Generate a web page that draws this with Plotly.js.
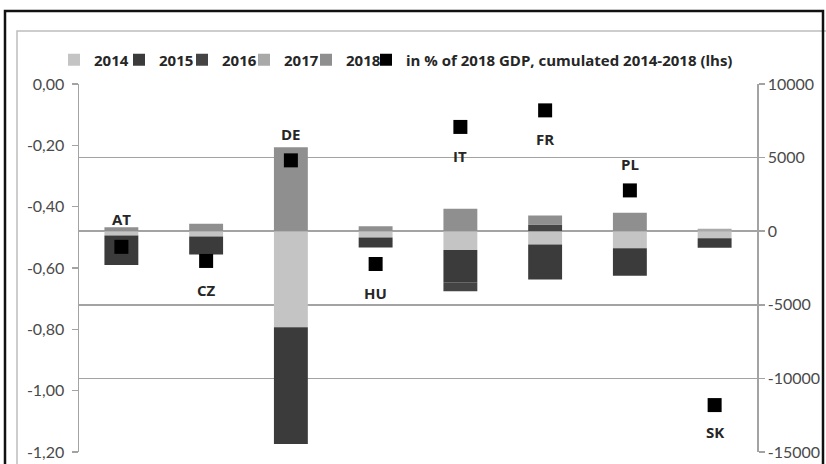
<!DOCTYPE html>
<html>
<head>
<meta charset="utf-8">
<script src="https://cdn.plot.ly/plotly-3.0.1.min.js"></script>
<style>html,body{margin:0;padding:0;background:#fff;}#chart{width:826px;height:464px;}</style>
</head>
<body>
<div id="chart"></div>
<script>
// Categories
var countries = ['AT', 'CZ', 'DE', 'HU', 'IT', 'FR', 'PL', 'SK'];
// Yearly values (rhs scale)
var y2014 = [-290, -360, -6530, -430, -1270, -900, -1160, -480];
var y2015 = [-2000, -1220, -7930, -680, -2200, -2380, -1860, -650];
var y2016 = [0, 0, 0, 0, -610, 450, 0, 0];
var y2017 = [0, 0, 0, 0, 0, 0, 0, 170];
var y2018 = [270, 500, 5710, 340, 1520, 610, 1250, 0];
// Cumulated 2014-2018, in % of 2018 GDP (lhs)
var cumPct = [-0.531, -0.577, -0.249, -0.587, -0.140, -0.086, -0.347, -1.047];
// Label positions for country names (lhs units)
var labelY = [-0.44, -0.673, -0.162, -0.683, -0.234, -0.178, -0.262, -1.135];

// Tick labels
var lhsTickVals = [0, -0.2, -0.4, -0.6, -0.8, -1.0, -1.2];
var lhsTickText = ['0,00', '-0,20', '-0,40', '-0,60', '-0,80', '-1,00', '-1,20'];
var rhsTickVals = [10000, 5000, 0, -5000, -10000, -15000];
var rhsTickText = ['10000', '5000', '0', '-5000', '-10000', '-15000'];

var seriesNames = ['2014', '2015', '2016', '2017', '2018'];
var seriesVals = [y2014, y2015, y2016, y2017, y2018];
var seriesColors = ['#c4c4c4', '#3b3b3b', '#444444', '#a9a9a9', '#8f8f8f'];
var dotName = 'in % of 2018 GDP, cumulated 2014-2018 (lhs)';

var FONT = 'Lato, "Open Sans", sans-serif';
var LEGFONT = '"Open Sans", Lato, sans-serif';

// helpers to convert pixel frame positions into paper coordinates
var L = 79, R = 757, T = 84, B = 452;
function px(x) { return (x - L) / (R - L); }
function py(y) { return (B - y) / (B - T); }

// legend entry left positions (px)
var legendX = [54, 119, 182, 244, 306, 366];
var legendIds = ['legend', 'legend2', 'legend3', 'legend4', 'legend5', 'legend6'];

var traces = seriesNames.map(function (n, i) {
  return {
    type: 'bar', name: n, x: countries, y: seriesVals[i],
    marker: {color: seriesColors[i], line: {width: 0}},
    yaxis: 'y', xaxis: 'x', legend: legendIds[i]
  };
});
traces.push({
  type: 'scatter', mode: 'markers', name: dotName,
  x: countries, y: cumPct, yaxis: 'y2', xaxis: 'x', legend: legendIds[5],
  marker: {symbol: 'square', size: 14, color: '#000'}
});

var annotations = countries.map(function (c, i) {
  return {
    x: c, y: labelY[i], xref: 'x', yref: 'y2', text: c, showarrow: false,
    font: {family: LEGFONT, size: 15, color: '#262626', weight: 'bold'}
  };
});

var layout = {
  width: 826, height: 464,
  margin: {l: L, r: 826 - R, t: T, b: 464 - B},
  paper_bgcolor: '#fff', plot_bgcolor: '#fff',
  barmode: 'relative', bargap: 0.6,
  showlegend: true,
  xaxis: {
    type: 'category', range: [-0.5, 7.5], showticklabels: false, showgrid: false,
    zeroline: false, showline: false, ticks: '', fixedrange: true
  },
  yaxis: {
    side: 'right', range: [-15000, 10000], tickvals: rhsTickVals, ticktext: rhsTickText,
    showgrid: true, gridcolor: '#a3a3a3', gridwidth: 1.5, zeroline: false,
    showline: true, linecolor: '#a3a3a3', linewidth: 1.5, ticks: 'outside', ticklen: 6,
    tickcolor: '#a3a3a3', tickwidth: 1.5,
    tickfont: {family: FONT, size: 16, color: '#4a4a4a'}
  },
  yaxis2: {
    overlaying: 'y', side: 'left', range: [-1.2, 0], tickvals: lhsTickVals, ticktext: lhsTickText,
    showgrid: false, zeroline: false, showline: true, linecolor: '#a3a3a3', linewidth: 1.5,
    ticks: 'outside', ticklen: 6, tickcolor: '#a3a3a3', tickwidth: 1.5, ticklabelstandoff: 4,
    tickfont: {family: FONT, size: 16, color: '#4a4a4a'}
  },
  annotations: annotations,
  shapes: [
    {type: 'rect', xref: 'paper', yref: 'paper', x0: px(17), x1: px(845), y0: py(490), y1: py(31),
     line: {color: '#bdbdbd', width: 1.5}, fillcolor: 'rgba(0,0,0,0)', layer: 'below'},
    {type: 'rect', xref: 'paper', yref: 'paper', x0: px(5), x1: px(823), y0: py(490), y1: py(11),
     line: {color: '#111', width: 2.5}, fillcolor: 'rgba(0,0,0,0)', layer: 'above'}
  ]
};

legendIds.forEach(function (id, i) {
  layout[id] = {
    orientation: 'h', x: px(legendX[i]), xanchor: 'left', y: py(60), yanchor: 'middle',
    font: {family: LEGFONT, size: 15, color: '#262626', weight: 'bold'},
    itemwidth: 30, itemsizing: 'constant', bgcolor: 'rgba(0,0,0,0)', borderwidth: 0
  };
});

Plotly.newPlot('chart', traces, layout, {displayModeBar: false, staticPlot: true});
</script>
</body>
</html>
